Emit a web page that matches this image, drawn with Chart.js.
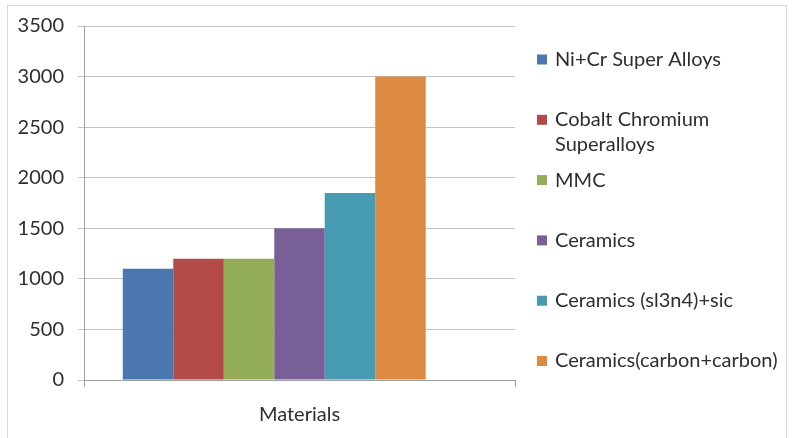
<!DOCTYPE html>
<html>
<head>
<meta charset="utf-8">
<script src="https://cdn.jsdelivr.net/npm/chart.js@4.4.1/dist/chart.umd.min.js"></script>
<style>
  html, body { margin: 0; padding: 0; background: #ffffff; }
  #wrap { position: relative; width: 792px; height: 438px; overflow: hidden; }
  #frame { position: absolute; left: 7px; top: 5px; width: 780px; height: 450px;
           border: 1px solid #d9d9d9; box-sizing: border-box; }
  canvas { position: absolute; left: 0; top: 0; }
</style>
</head>
<body>
<div id="wrap">
  <div id="frame"></div>
  <canvas id="chart" width="792" height="438"></canvas>
</div>
<script>
// Category, series and axis data
const categories = ['Materials'];
const seriesNames = [
  'Ni+Cr Super Alloys',
  'Cobalt Chromium Superalloys',
  'MMC',
  'Ceramics',
  'Ceramics (sl3n4)+sic',
  'Ceramics(carbon+carbon)'
];
const seriesValues = [1100, 1200, 1200, 1500, 1850, 3000];
const seriesColors = ['#4a78ae', '#b24b48', '#93ad58', '#785f98', '#469bb2', '#dd8a42'];
const yTicks = [0, 500, 1000, 1500, 2000, 2500, 3000, 3500];

const FONT = 'Lato, "Open Sans", sans-serif';
const TEXT = '#2e2e2e';
const FONT_SIZE = 20;

const datasets = seriesNames.map((name, i) => ({
  label: name,
  data: [seriesValues[i]],
  backgroundColor: seriesColors[i],
  borderWidth: 0
}));
// empty trailing slot in the group (the source workbook reserves room for one more series)
datasets.push({ label: '', data: [null], backgroundColor: 'rgba(0,0,0,0)', borderWidth: 0 });

// Legend on the right, drawn from the dataset labels and colours
const sideLegend = {
  id: 'sideLegend',
  afterDraw(chart) {
    const ctx = chart.ctx;
    const boxX = 537, textX = 555, firstY = 59.5, step = 60.3, lineH = 25, maxW = 232, box = 10;
    ctx.save();
    ctx.font = FONT_SIZE + 'px ' + FONT;
    ctx.fillStyle = TEXT;
    ctx.textBaseline = 'middle';
    ctx.textAlign = 'left';
    chart.data.datasets.forEach((ds, i) => {
      if (!ds.label) return;
      const y = firstY + i * step;
      // word wrap
      const words = ds.label.split(' ');
      const lines = [];
      let cur = '';
      words.forEach(w => {
        const test = cur ? cur + ' ' + w : w;
        if (cur && ctx.measureText(test).width > maxW) { lines.push(cur); cur = w; }
        else cur = test;
      });
      if (cur) lines.push(cur);
      ctx.fillStyle = ds.backgroundColor;
      ctx.fillRect(boxX, y - box / 2, box, box);
      ctx.fillStyle = TEXT;
      lines.forEach((ln, k) => ctx.fillText(ln, textX, y + k * lineH));
    });
    ctx.restore();
  }
};

new Chart(document.getElementById('chart'), {
  type: 'bar',
  data: { labels: categories, datasets },
  plugins: [sideLegend],
  options: {
    responsive: false,
    animation: false,
    layout: { padding: { top: 25, right: 277, left: 0, bottom: 0 } },
    plugins: { legend: { display: false }, tooltip: { enabled: false } },
    datasets: { bar: { categoryPercentage: 0.82, barPercentage: 1 } },
    scales: {
      x: {
        afterFit(scale) { scale.height = 58; },
        grid: { offset: true, drawOnChartArea: false, drawTicks: true, tickLength: 7, color: '#a0a0a0' },
        border: { color: '#a0a0a0', width: 1 },
        ticks: { font: { family: FONT, size: FONT_SIZE }, color: TEXT, padding: 16 }
      },
      y: {
        min: 0,
        max: 3500,
        afterFit(scale) { scale.width = 84; },
        afterBuildTicks(scale) { scale.ticks = yTicks.map(v => ({ value: v })); },
        grid: { color: '#c4c4c4', tickLength: 6, drawTicks: true },
        border: { color: '#a0a0a0', width: 1 },
        ticks: {
          font: { family: FONT, size: FONT_SIZE }, color: TEXT, padding: 14,
          callback: v => String(v)
        }
      }
    }
  }
});
</script>
</body>
</html>
